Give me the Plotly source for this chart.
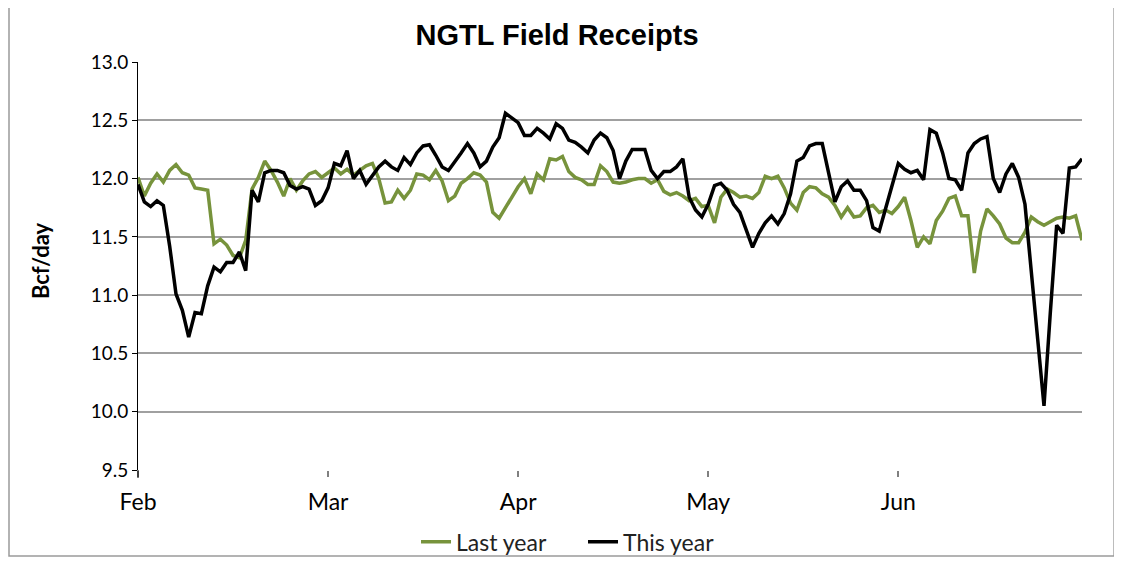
import plotly.graph_objects as go

# Daily values, Feb 1 .. Jun 30 (Bcf/day)
last_year = [
    12.01, 11.85, 11.96, 12.04, 11.97, 12.07, 12.12, 12.05, 12.03, 11.92,
    11.91, 11.90, 11.44, 11.48, 11.43, 11.34, 11.32, 11.47, 11.91, 12.01,
    12.15, 12.07, 11.97, 11.85, 12.00, 11.90, 11.98, 12.04, 12.06, 12.01,
    12.05, 12.09, 12.04, 12.08, 12.03, 12.07, 12.11, 12.13, 12.00, 11.79,
    11.80, 11.90, 11.83, 11.90, 12.04, 12.03, 11.99, 12.07, 11.98, 11.81,
    11.85, 11.96, 12.00, 12.05, 12.03, 11.97, 11.71, 11.66, 11.75, 11.84,
    11.93, 12.00, 11.87, 12.04, 11.99, 12.17, 12.16, 12.19, 12.06, 12.01,
    11.99, 11.95, 11.95, 12.11, 12.06, 11.97, 11.96, 11.97, 11.99, 12.00,
    12.00, 11.96, 11.99, 11.89, 11.86, 11.88, 11.85, 11.81, 11.83, 11.76,
    11.77, 11.62, 11.84, 11.91, 11.88, 11.84, 11.85, 11.83, 11.88, 12.02,
    12.00, 12.02, 11.92, 11.79, 11.73, 11.88, 11.93, 11.92, 11.87, 11.84,
    11.77, 11.67, 11.75, 11.67, 11.68, 11.75, 11.77, 11.71, 11.73, 11.70,
    11.76, 11.84, 11.64, 11.41, 11.50, 11.44, 11.64, 11.72, 11.83, 11.85,
    11.68, 11.68, 11.19, 11.55, 11.74, 11.68, 11.61, 11.49, 11.45, 11.45,
    11.54, 11.67, 11.63, 11.60, 11.63, 11.66, 11.67, 11.66, 11.68, 11.47,
]

this_year = [
    11.95, 11.80, 11.76, 11.81, 11.77, 11.42, 11.01, 10.87, 10.64, 10.85,
    10.84, 11.08, 11.24, 11.20, 11.28, 11.28, 11.37, 11.21, 11.90, 11.80,
    12.05, 12.07, 12.07, 12.05, 11.94, 11.91, 11.93, 11.91, 11.77, 11.81,
    11.92, 12.13, 12.11, 12.24, 12.00, 12.07, 11.95, 12.03, 12.10, 12.15,
    12.10, 12.07, 12.18, 12.12, 12.22, 12.28, 12.29, 12.20, 12.10, 12.07,
    12.14, 12.22, 12.30, 12.22, 12.10, 12.15, 12.27, 12.35, 12.56, 12.52,
    12.48, 12.37, 12.37, 12.43, 12.39, 12.34, 12.47, 12.43, 12.33, 12.31,
    12.27, 12.22, 12.33, 12.39, 12.35, 12.24, 12.00, 12.15, 12.25, 12.25,
    12.25, 12.07, 12.00, 12.06, 12.06, 12.10, 12.17, 11.84, 11.73, 11.67,
    11.78, 11.94, 11.96, 11.90, 11.78, 11.71, 11.55, 11.41, 11.53, 11.62,
    11.68, 11.61, 11.70, 11.87, 12.15, 12.18, 12.28, 12.30, 12.30, 12.04,
    11.80, 11.93, 11.98, 11.90, 11.90, 11.81, 11.58, 11.55, 11.75, 11.93,
    12.13, 12.08, 12.05, 12.07, 11.99, 12.42, 12.39, 12.22, 12.00, 11.99,
    11.90, 12.22, 12.30, 12.34, 12.36, 12.00, 11.88, 12.04, 12.13, 12.01,
    11.78, 11.20, 10.60, 10.05, 10.85, 11.60, 11.53, 12.09, 12.10, 12.17,
]

month_labels = ["Feb", "Mar", "Apr", "May", "Jun"]
month_starts = [0, 30, 60, 90, 120]
day = list(range(len(this_year)))

fig = go.Figure()
fig.add_trace(go.Scatter(x=day, y=last_year, mode="lines", name="Last year",
                         line=dict(color="#77933C", width=3.5)))
fig.add_trace(go.Scatter(x=day, y=this_year, mode="lines", name="This year",
                         line=dict(color="black", width=3.5)))

# page body has an 8px margin, so the figure is sized to fit the window
W, H = 1106, 549
fig.update_layout(
    width=W, height=H,
    margin=dict(l=130, r=32, t=54, b=87, autoexpand=False),
    paper_bgcolor="white", plot_bgcolor="white",
    font=dict(family="Lato, Open Sans, sans-serif", size=20, color="black"),
    title=dict(text="<b>NGTL Field Receipts</b>", x=(557 - 8) / W, xanchor="center",
               y=1 - 27 / H, yanchor="middle",
               font=dict(family="Liberation Sans, Arial", size=29, color="black")),
    showlegend=True,
    legend=dict(orientation="h", x=0.2945, xanchor="left", y=-0.176, yanchor="middle",
                bgcolor="rgba(0,0,0,0)", entrywidth=122,
                font=dict(size=23, color="#222222")),
    shapes=[
        # chart-area border
        dict(type="rect", xref="paper", yref="paper", x0=-129 / 944, x1=1.034,
             y0=-86 / 408, y1=55 / 408 + 1, line=dict(color="#9A9A9A", width=1.5)),
        # y axis line running past the x axis
        dict(type="line", xref="paper", yref="paper", x0=0, x1=0, y0=0, y1=-8 / 408,
             line=dict(color="black", width=1)),
    ],
    annotations=[dict(text="<b>Bcf/day</b>", textangle=-90, xref="paper", yref="paper",
                      x=-98 / 944, y=0.512, xanchor="center", yanchor="middle",
                      showarrow=False, font=dict(size=22, color="black"))],
)

fig.update_xaxes(
    range=[0, len(day) - 1], tickvals=month_starts, ticktext=month_labels,
    showgrid=False, zeroline=False, showline=False, automargin=False,
    ticks="outside", ticklen=6, tickcolor="#808080", tickwidth=1.5,
    ticklabelstandoff=5, tickfont=dict(size=23),
)
fig.update_yaxes(
    range=[9.5, 13.0], dtick=0.5, tickformat=".1f", automargin=False,
    showgrid=True, gridcolor="#A0A0A0", gridwidth=2, zeroline=False,
    showline=True, linecolor="black", linewidth=1,
    ticks="outside", ticklen=5, tickcolor="black",
    tickfont=dict(size=19),
)

fig.write_html("out.html")
